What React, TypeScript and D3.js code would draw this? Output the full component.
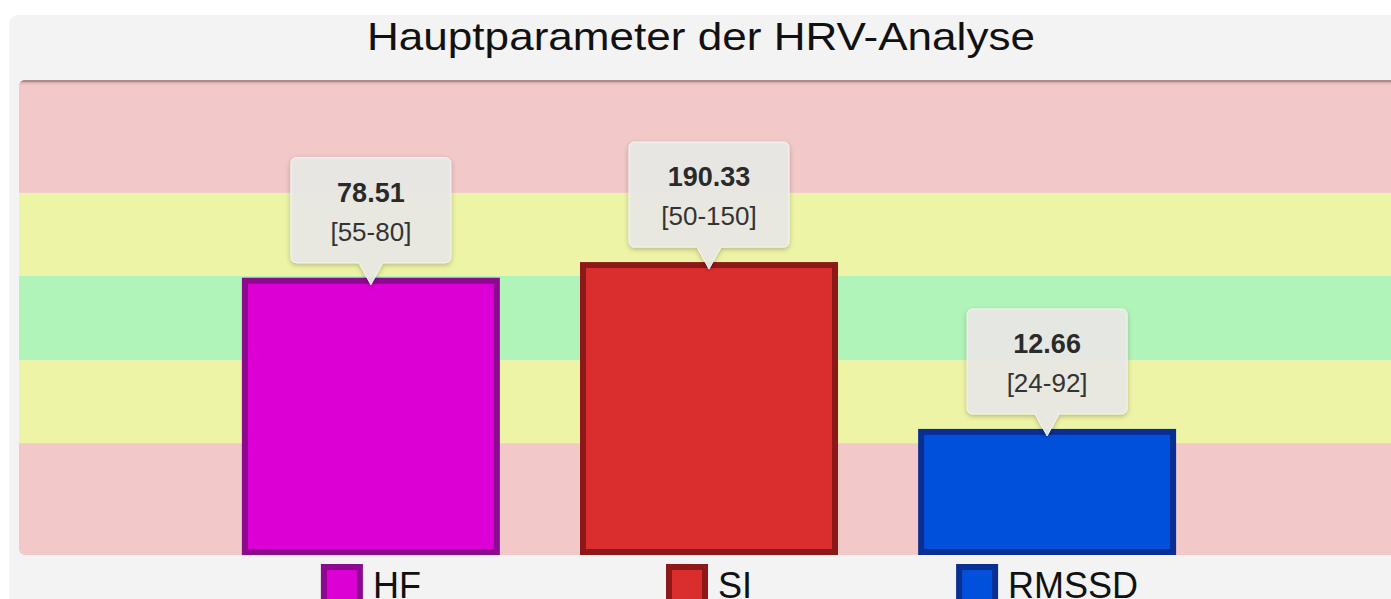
import React, { useEffect, useRef } from 'react';
import * as d3 from 'd3';

// --- Chart data ---
const categories = ['HF', 'SI', 'RMSSD'];
const values = [78.51, 190.33, 12.66];
const normalRanges = ['[55-80]', '[50-150]', '[24-92]'];
// bar height on the normalised 0..100 zone scale
const levels = [58.5, 61.8, 26.6];
// zone boundaries on the same scale (bottom -> top)
const zoneEdges = [0, 23.6, 41.1, 58.9, 76.4, 100];
const zoneColors = ['#f2c8c8', '#eef4a6', '#b1f4b9', '#eef4a6', '#f2c8c8'];
const barFills = ['#dc00d4', '#da2e2e', '#0050dc'];
const barStrokes = ['#8c0a8e', '#8c1818', '#0a2f92'];

const W = 1391;
const H = 599;

function HrvChart() {
  const svgRef = useRef<SVGSVGElement | null>(null);

  useEffect(() => {
    const svg = d3.select(svgRef.current);
    svg.selectAll('*').remove();

    const plot = { left: 19, right: 1420, top: 80, bottom: 555 };

    const x = d3.scaleBand<string>()
      .domain(categories)
      .range([202, 1216])
      .paddingInner(0.237)
      .paddingOuter(0.118);

    const y = d3.scaleLinear().domain([0, 100]).range([plot.bottom, plot.top + 1]);

    const defs = svg.append('defs');
    defs.append('clipPath').attr('id', 'plotClip')
      .append('rect')
      .attr('x', plot.left).attr('y', plot.top)
      .attr('width', plot.right - plot.left).attr('height', plot.bottom - plot.top)
      .attr('rx', 6);
    const shadow = defs.append('filter').attr('id', 'tipShadow')
      .attr('x', '-20%').attr('y', '-20%').attr('width', '140%').attr('height', '150%');
    shadow.append('feDropShadow')
      .attr('dx', 0).attr('dy', 2).attr('stdDeviation', 2.5)
      .attr('flood-color', '#000').attr('flood-opacity', 0.25);
    const topShade = defs.append('linearGradient').attr('id', 'topShade')
      .attr('x1', 0).attr('x2', 0).attr('y1', 0).attr('y2', 1);
    topShade.append('stop').attr('offset', 0).attr('stop-color', '#8a6a6a').attr('stop-opacity', 0.55);
    topShade.append('stop').attr('offset', 1).attr('stop-color', '#8a6a6a').attr('stop-opacity', 0);

    // --- Outer panel ---
    svg.append('rect')
      .attr('x', 9).attr('y', 15)
      .attr('width', W + 20).attr('height', H + 20)
      .attr('rx', 9)
      .attr('fill', '#f3f3f3');

    // --- Title ---
    svg.append('text')
      .attr('x', 701).attr('y', 50)
      .attr('text-anchor', 'middle')
      .attr('font-family', 'Liberation Sans, Arial, sans-serif')
      .attr('font-size', 39)
      .attr('textLength', 668)
      .attr('lengthAdjust', 'spacingAndGlyphs')
      .attr('fill', '#111')
      .text('Hauptparameter der HRV-Analyse');

    // --- Zones + bars (clipped to rounded plot area) ---
    const g = svg.append('g').attr('clip-path', 'url(#plotClip)');

    g.selectAll('rect.zone')
      .data(zoneColors)
      .join('rect')
      .attr('class', 'zone')
      .attr('x', plot.left)
      .attr('width', plot.right - plot.left)
      .attr('y', (d, i) => y(zoneEdges[i + 1]))
      .attr('height', (d, i) => y(zoneEdges[i]) - y(zoneEdges[i + 1]))
      .attr('fill', d => d);

    g.append('rect')
      .attr('x', plot.left).attr('y', plot.top)
      .attr('width', plot.right - plot.left).attr('height', 5)
      .attr('fill', 'url(#topShade)');
    g.append('line')
      .attr('x1', plot.left).attr('x2', plot.right)
      .attr('y1', plot.top + 1).attr('y2', plot.top + 1)
      .attr('stroke', '#ae8a8c').attr('stroke-width', 2);

    const sw = 6;
    g.selectAll('rect.bar')
      .data(categories)
      .join('rect')
      .attr('class', 'bar')
      .attr('x', d => (x(d) as number) + sw / 2)
      .attr('width', x.bandwidth() - sw)
      .attr('y', (d, i) => y(levels[i]) + sw / 2)
      .attr('height', (d, i) => plot.bottom - y(levels[i]) - sw)
      .attr('fill', (d, i) => barFills[i])
      .attr('stroke', (d, i) => barStrokes[i])
      .attr('stroke-width', sw);

    // --- Value callouts ---
    const boxW = 160;
    const boxH = 105;
    const tipH = 22;
    const tipHalf = 12;
    const r = 6;

    const tips = svg.selectAll('g.tip')
      .data(categories)
      .join('g')
      .attr('class', 'tip')
      .attr('transform', (d, i) => {
        const cx = (x(d) as number) + x.bandwidth() / 2;
        const tipY = y(levels[i]) + 7;
        return `translate(${cx},${tipY - tipH - boxH})`;
      });

    const bubble = () => {
      const l = -boxW / 2, rr = boxW / 2;
      return [
        `M${l + r},0`, `H${rr - r}`, `Q${rr},0 ${rr},${r}`,
        `V${boxH - r}`, `Q${rr},${boxH} ${rr - r},${boxH}`,
        `H${tipHalf}`, `L0,${boxH + tipH}`, `L${-tipHalf},${boxH}`,
        `H${l + r}`, `Q${l},${boxH} ${l},${boxH - r}`,
        `V${r}`, `Q${l},0 ${l + r},0`, 'Z'
      ].join(' ');
    };

    tips.append('path')
      .attr('d', bubble())
      .attr('fill', '#e9e9e5')
      .attr('fill-opacity', 0.95)
      .attr('stroke', '#f4f4f2')
      .attr('stroke-width', 1)
      .attr('filter', 'url(#tipShadow)');

    tips.append('text')
      .attr('y', 44)
      .attr('text-anchor', 'middle')
      .attr('font-family', 'Liberation Sans, Arial, sans-serif')
      .attr('font-weight', 'bold')
      .attr('font-size', 27)
      .attr('fill', '#2a2a2a')
      .text((d, i) => values[i].toFixed(2));

    tips.append('text')
      .attr('y', 83)
      .attr('text-anchor', 'middle')
      .attr('font-family', 'Liberation Sans, Arial, sans-serif')
      .attr('font-size', 26)
      .attr('fill', '#333')
      .text((d, i) => normalRanges[i]);

    // --- Legend (one item centred under each bar) ---
    const sq = 42;
    const gap = 10;
    const legend = svg.selectAll('g.legend')
      .data(categories)
      .join('g')
      .attr('class', 'legend');

    legend.append('rect')
      .attr('x', sw / 2).attr('y', 564 + sw / 2)
      .attr('width', sq - sw).attr('height', sq - sw)
      .attr('fill', (d, i) => barFills[i])
      .attr('stroke', (d, i) => barStrokes[i])
      .attr('stroke-width', sw);

    const labels = legend.append('text')
      .attr('x', sq + gap).attr('y', 598)
      .attr('font-family', 'Liberation Sans, Arial, sans-serif')
      .attr('font-size', 36)
      .attr('fill', '#111')
      .text(d => d);

    labels.each(function (d) {
      const tw = (this as SVGTextElement).getComputedTextLength();
      const total = sq + gap + tw;
      const cx = (x(d) as number) + x.bandwidth() / 2;
      d3.select((this as SVGTextElement).parentNode as SVGGElement)
        .attr('transform', `translate(${cx - total / 2},0)`);
    });
  }, []);

  return <svg ref={svgRef} width={W} height={H} style={{ display: 'block' }} />;
}

export default function App() {
  return (
    <div style={{ position: 'absolute', left: 0, top: 0, width: W, height: H, overflow: 'hidden', background: '#fff' }}>
      <HrvChart />
    </div>
  );
}
